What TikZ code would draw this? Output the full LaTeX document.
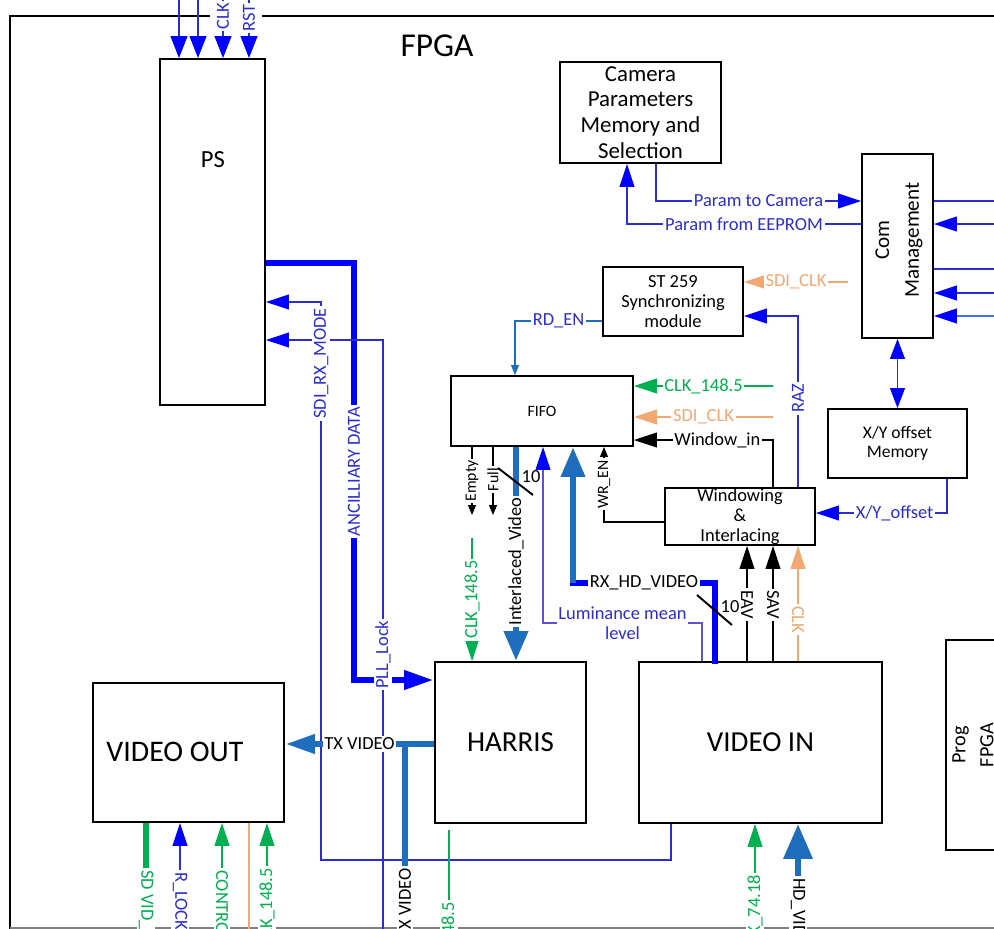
\documentclass[tikz,border=0pt]{standalone}
\usepackage{fontspec}
\setmainfont{Carlito}
\usepackage{tikz}
\usetikzlibrary{arrows.meta,positioning,calc}

\definecolor{sigblue}{RGB}{45,45,205}
\definecolor{pureblue}{RGB}{0,0,255}
\definecolor{lightblue}{RGB}{70,110,250}
\definecolor{lumblue}{RGB}{95,80,215}
\definecolor{steel}{RGB}{31,110,190}
\definecolor{clkgreen}{RGB}{0,176,80}
\definecolor{clkorange}{RGB}{242,168,115}

\newcommand{\lblfont}{\fontsize{10.5}{11.5}\selectfont}
\newcommand{\smallfont}{\fontsize{9}{10}\selectfont}
\newcommand{\midfont}{\fontsize{10.5}{11.2}\selectfont}
\newcommand{\camfont}{\fontsize{13}{14.7}\selectfont}
\newcommand{\bigfont}{\fontsize{16.5}{18}\selectfont}

\begin{document}
\begin{tikzpicture}[
    x=0.2mm, y=-0.2mm,
    blk/.style={draw, line width=1.1pt, align=center, inner sep=0pt},
    wire/.style={line width=0.6pt},
    bus/.style={line width=3.8pt},
    lbl/.style={fill=white, inner sep=1pt, font=\lblfont},
    vlbl/.style={lbl, rotate=90},
    dlbl/.style={lbl, rotate=-90},
    arrow/.style={-{Triangle[length=4.6mm, width=3mm]}},
    barrow/.style={-{Triangle[length=4.6mm, width=3mm, color=pureblue]}},
    bbarrow/.style={{Triangle[length=4mm, width=3mm, color=pureblue]}-{Triangle[length=4mm, width=3mm, color=pureblue]}},
    small arrow/.style={-{Triangle[length=2mm, width=1.6mm]}},
    bus arrow/.style={-{Triangle[length=6mm, width=3.6mm]}},
    big arrow/.style={-{Triangle[length=6mm, width=4.6mm]}}
]
\useasboundingbox (0,0) rectangle (994,929);

% FPGA frame
\draw[line width=1.1pt] (210,16) -- (10,16) -- (10,929);
\draw[line width=1.1pt] (262,16) -- (1000,16);
\draw[gray, line width=0.6pt] (10,928) -- (994,928);
\node[font=\fontsize{19}{22}\selectfont] (fpga) at (437,46) {FPGA};

% blocks
\node[blk, minimum width=21mm, minimum height=69.2mm] (ps) at (212.5,232) {};
\node[font=\fontsize{14}{16}\selectfont] (ps-t) at (213,160) {PS};
\node[blk, minimum width=32.2mm, minimum height=20.2mm, font=\camfont] (cam) at (640.5,112.5)
    {Camera\\Parameters\\Memory and\\Selection};
\node[blk, minimum width=14.2mm, minimum height=36.8mm] (com) at (897.5,246) {};
\node[rotate=90, align=center, font=\fontsize{12}{17}\selectfont] (com-t) at (899,240) {Com\\Management};
\node[blk, minimum width=28mm, minimum height=13.8mm, font=\midfont] (st) at (673,301.5)
    {ST 259\\Synchronizing\\module};
\node[blk, minimum width=36.4mm, minimum height=14mm, font=\smallfont] (fifo) at (542,411) {FIFO};
\node[blk, minimum width=27.8mm, minimum height=13.8mm, font=\fontsize{10}{10.8}\selectfont] (xy) at (897.5,443.5)
    {X/Y offset\\Memory};
\node[blk, minimum width=30mm, minimum height=11.4mm, font=\midfont] (win) at (740,516.5)
    {Windowing\\\&\\Interlacing};
\node[blk, minimum width=30.2mm, minimum height=32.2mm, font=\bigfont] (harris) at (510.5,742.5) {HARRIS};
\node[blk, minimum width=48.6mm, minimum height=32.2mm, font=\bigfont] (vin) at (760.5,742.5) {VIDEO IN};
\node[blk, minimum width=38.2mm, minimum height=27.8mm] (vout) at (188.5,752.5) {};
\node[font=\fontsize{17}{19}\selectfont] (vout-t) at (175,752) {VIDEO OUT};
\node[blk, minimum width=12mm, minimum height=42mm] (prog) at (976,745) {};
\node[rotate=90, align=center, font=\fontsize{11.5}{16}\selectfont] (prog-t) at (973,745) {Prog\\FPGA};

% inputs on top of PS
\foreach \x/\n in {179/a,198/b,223/c,249/d} {
  \coordinate (top-\n) at (\x,-10);
  \draw[wire, sigblue, -{Triangle[length=4.4mm, width=3.4mm, color=pureblue]}] (top-\n) -- (ps.north -| top-\n);
}
\node[vlbl, text=sigblue] (clk-l) at (223,16) {CLK};
\node[vlbl, text=sigblue] (rst-l) at (249,18) {RST};

% camera parameters <-> com management
\draw[wire, sigblue, barrow] (cam.south -| 656,0) |- node[lbl, text=sigblue, pos=0.75] {Param to Camera} (com.west |- 0,201);
\draw[wire, sigblue, barrow] (com.west |- 0,224) -| node[lbl, text=sigblue, pos=0.25] {Param from EEPROM} (cam.south -| 627,0);
\foreach \y/\n in {201/a,269/b} {
  \coordinate (com-o\n) at (1010,\y);
  \draw[wire, sigblue] (com.east |- com-o\n) -- (com-o\n);
}
\foreach \y/\n in {224/a,293/b} {
  \coordinate (com-i\n) at (1010,\y);
  \draw[wire, sigblue, barrow] (com-i\n) -- (com.east |- com-i\n);
}
\coordinate (com-ic) at (1010,316);
\draw[wire, lightblue, barrow] (com-ic) -- (com.east |- com-ic);
\draw[wire, sigblue, bbarrow] (com.south) -- (xy.north);
\draw[wire, sigblue, barrow] (xy.south -| 947,0) |- node[lbl, text=sigblue, pos=0.7] {X/Y\_offset} (win.east |- 0,513);

% ST 259
\coordinate (sdi-a) at (848,282);
\draw[wire, clkorange, arrow] (sdi-a) -- node[lbl, text=clkorange] {SDI\_CLK} (st.east |- sdi-a);
\draw[wire, sigblue, barrow] (win.north -| 798,0) |- node[vlbl, text=sigblue, pos=0.26] {RAZ} (st.east |- 0,316);
\draw[wire, steel, small arrow] (st.west |- 0,321) -| node[lbl, text=sigblue, pos=0.25] {RD\_EN} (fifo.north -| 515,0);

% FIFO inputs on the right
\coordinate (clk-f) at (773,386);
\draw[wire, clkgreen, arrow] (clk-f) -- node[lbl, text=clkgreen] {CLK\_148.5} (fifo.east |- clk-f);
\coordinate (sdi-f) at (773,417);
\draw[wire, clkorange, arrow] (sdi-f) -- node[lbl, text=clkorange] {SDI\_CLK} (fifo.east |- sdi-f);
\draw[wire, arrow] (win.north -| 773,0) |- node[lbl, pos=0.7] {Window\_in} (fifo.east |- 0,440);
\draw[wire, small arrow] (win.west |- 0,522) -| node[vlbl, font=\smallfont, pos=0.75] {WR\_EN} (fifo.south -| 604,0);

% FIFO flags
\coordinate (empty) at (472,515);
\draw[wire, small arrow] (fifo.south -| empty) -- node[vlbl, font=\smallfont, pos=0.5] {Empty} (empty);
\coordinate (full) at (493,515);
\draw[wire, small arrow] (fifo.south -| full) -- node[vlbl, font=\smallfont, pos=0.48] {Full} (full);

% FIFO -> HARRIS
\draw[bus, steel, big arrow] (fifo.south -| 516,0) -- node[vlbl, text=black, pos=0.535] {Interlaced\_Video} (harris.north -| 516,0);
\draw[line width=1.1pt] (498,468) -- (533,495);
\node[font=\lblfont] (w-a) at (531,477) {10};
\coordinate (hclk-a) at (472,538);
\draw[wire, clkgreen, arrow] (hclk-a) -- node[vlbl, text=clkgreen, pos=0.5] {CLK\_148.5} (harris.north -| hclk-a);

% VIDEO IN -> FIFO / windowing
\coordinate (lum-c) at (702,623);
\draw[wire, lumblue, barrow] (vin.north -| lum-c) -- (lum-c) -| node[lbl, text=sigblue, align=center, pos=0.25]
    {Luminance mean\\level} (fifo.south -| 543,0);
\coordinate (rx-c) at (573,583);
\draw[bus, pureblue, line cap=rect] (vin.north -| 715,0) |- node[lbl, text=black, pos=0.75] {RX\_HD\_VIDEO} (rx-c);
\draw[bus, steel, big arrow] (rx-c) -- (fifo.south -| rx-c);
\draw[wire, arrow] (vin.north -| 747,0) -- node[dlbl, pos=0.49] {EAV} (win.south -| 747,0);
\draw[wire, arrow] (vin.north -| 773,0) -- node[dlbl, pos=0.49] {SAV} (win.south -| 773,0);
\draw[wire, clkorange, arrow] (vin.north -| 798,0) -- node[dlbl, text=clkorange, pos=0.36] {CLK} (win.south -| 798,0);
\draw[line width=1.1pt] (697,595) -- (732,625);
\node[font=\lblfont] (w-b) at (730,607) {10};

% PS <-> HARRIS / VIDEO IN
\coordinate (anc-c) at (354,680);
\draw[bus, pureblue, bus arrow] (ps.east |- 0,263) -| node[vlbl, text=sigblue, pos=0.75] {ANCILLIARY DATA} (anc-c)
    -- (harris.west |- anc-c);
\coordinate (pll) at (383,945);
\draw[wire, sigblue, barrow] (pll) |- node[vlbl, text=sigblue, pos=0.24] {PLL\_Lock} (ps.east |- 0,340);
\coordinate (rxm-c) at (321,860);
\draw[wire, sigblue, barrow] (vin.south -| 671,0) |- (rxm-c) |- node[vlbl, text=sigblue, pos=0.445] {SDI\_RX\_MODE} (ps.east |- 0,302);

% HARRIS -> VIDEO OUT
\draw[bus, steel, bus arrow] (harris.west |- 0,744) -- node[lbl, text=black] {TX VIDEO} (vout.east |- 0,744);
\coordinate (tx-j) at (405,744);
\coordinate (tx-o) at (405,945);
\draw[bus, steel] (tx-j) -- (tx-o);
\node[vlbl, anchor=east] (tx-l) at (405,866) {TX VIDEO};
\coordinate (hb-a) at (449,830);
\coordinate (hb-b) at (449,945);
\draw[wire, clkgreen] (hb-a) -- (hb-b);
\node[vlbl, anchor=east, text=clkgreen] (hb-l) at (449,900) {CLK\_148.5};

% VIDEO OUT pins
\coordinate (sd) at (146,945);
\draw[line width=3.4pt, clkgreen] (sd) -- (vout.south -| sd);
\node[dlbl, anchor=west, text=clkgreen] (sd-l) at (146,868) {SD VID\_OUT};
\coordinate (rl) at (180,945);
\draw[wire, sigblue, barrow] (rl) -- (vout.south -| rl);
\node[dlbl, anchor=west, text=sigblue] (rl-l) at (180,870) {R\_LOCK};
\coordinate (ctl) at (222,945);
\draw[wire, clkgreen, arrow] (ctl) -- (vout.south -| ctl);
\node[dlbl, anchor=west, text=clkgreen] (ctl-l) at (222,868) {CONTROL};
\coordinate (oc) at (249,945);
\draw[wire, clkorange] (oc) -- (vout.south -| oc);
\coordinate (vc) at (267,945);
\draw[wire, clkgreen, arrow] (vc) -- (vout.south -| vc);
\node[vlbl, anchor=east, text=clkgreen] (vc-l) at (267,866) {CLK\_148.5};

% VIDEO IN pins
\coordinate (c74) at (755,945);
\draw[wire, clkgreen, arrow] (c74) -- (vin.south -| c74);
\node[vlbl, anchor=east, text=clkgreen] (c74-l) at (755,873) {CLK\_74.18};
\coordinate (hd) at (798,945);
\draw[bus, steel, -{Triangle[length=7mm, width=5.6mm]}] (hd) -- (vin.south -| hd);
\node[dlbl, anchor=west] (hd-l) at (798,876) {HD\_VIDEO};
\end{tikzpicture}
\end{document}
